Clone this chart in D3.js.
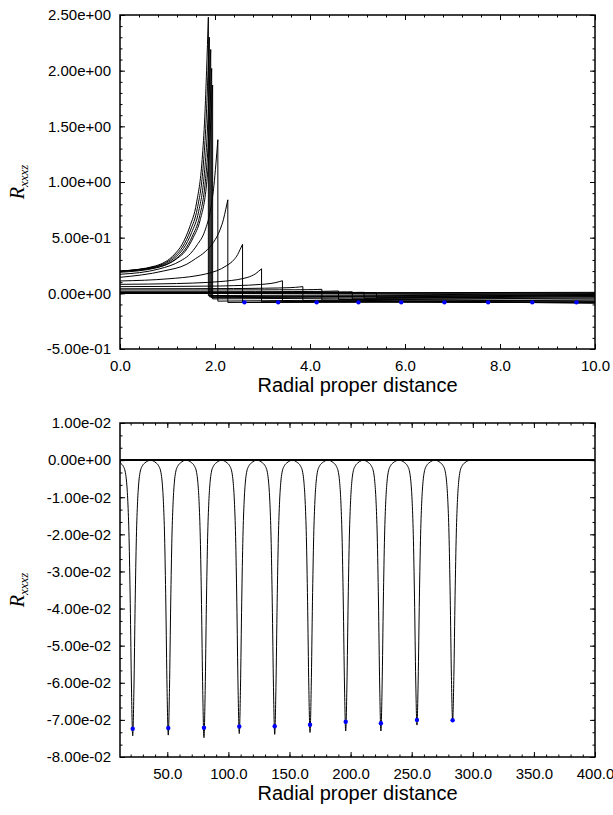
<!DOCTYPE html>
<html>
<head>
<meta charset="utf-8">
<script src="https://cdn.jsdelivr.net/npm/d3@7"></script>
<style>
  html, body { margin: 0; padding: 0; background: #fff; }
  svg { display: block; }
  .tick text { font-family: "Liberation Sans", Arial, Helvetica, sans-serif; font-size: 15px; fill: #000; }
  .tick line { stroke: #000; stroke-width: 1; }
</style>
</head>
<body>
<svg id="chart" width="613" height="815"></svg>
<script>
// ---------------- DATA ----------------
// Top panel: x tick labels / y tick labels
const topXTicks = [0, 2, 4, 6, 8, 10];
const topYTicks = [-0.5, 0, 0.5, 1.0, 1.5, 2.0, 2.5];
// Bottom panel ticks
const botXTicks = [50, 100, 150, 200, 250, 300, 350, 400];
const botYTicks = [0.01, 0, -0.01, -0.02, -0.03, -0.04, -0.05, -0.06, -0.07, -0.08];

// Top panel: each curve rises from x=0 to its peak, then drops and runs to x=10.
// Rise is sampled at x = u * peakX for these u.
const riseU = [0, 0.4, 0.62, 0.7, 0.79, 0.866, 0.93, 0.96, 0.98, 1];
const peakX = [1.86, 1.88, 1.91, 1.93, 1.95, 2.06, 2.27, 2.58, 2.98, 3.42, 3.85, 4.25, 4.60, 4.89, 5.14, 5.40];
const riseValues = [
  [0.200, 0.246, 0.353, 0.435, 0.599, 0.811, 1.203, 1.591, 2.001, 2.48],
  [0.200, 0.242, 0.341, 0.416, 0.568, 0.763, 1.124, 1.481, 1.859, 2.30],
  [0.198, 0.238, 0.331, 0.403, 0.547, 0.732, 1.074, 1.413, 1.772, 2.19],
  [0.196, 0.232, 0.318, 0.384, 0.515, 0.685, 0.999, 1.309, 1.637, 2.02],
  [0.189, 0.231, 0.315, 0.374, 0.500, 0.660, 0.945, 1.231, 1.534, 1.87],
  [0.171, 0.219, 0.292, 0.340, 0.437, 0.558, 0.776, 0.969, 1.162, 1.38],
  [0.144, 0.200, 0.262, 0.311, 0.374, 0.457, 0.576, 0.666, 0.750, 0.84],
  [0.111, 0.131, 0.157, 0.174, 0.203, 0.246, 0.302, 0.348, 0.394, 0.44],
  [0.081, 0.088, 0.098, 0.105, 0.116, 0.132, 0.157, 0.178, 0.199, 0.22],
  [0.060, 0.063, 0.066, 0.069, 0.073, 0.080, 0.089, 0.097, 0.105, 0.113],
  [0.041, 0.042, 0.043, 0.044, 0.046, 0.048, 0.051, 0.054, 0.057, 0.060],
  [0.030, 0.030, 0.031, 0.031, 0.032, 0.032, 0.033, 0.034, 0.035, 0.036],
  [0.014, 0.014, 0.015, 0.015, 0.016, 0.017, 0.018, 0.019, 0.020, 0.021],
  [0.010, 0.010, 0.010, 0.011, 0.011, 0.012, 0.012, 0.013, 0.013, 0.014],
  [0.007, 0.007, 0.007, 0.007, 0.008, 0.008, 0.008, 0.008, 0.009, 0.009],
  [0.004, 0.004, 0.004, 0.004, 0.004, 0.004, 0.005, 0.005, 0.005, 0.005]
];
const dropValues = [-0.020, -0.030, -0.035, -0.040, -0.050, -0.070, -0.082, -0.082, -0.075, -0.072, -0.065, -0.060, -0.055, -0.050, -0.045, -0.040];
const tailValues = [-0.005, -0.010, -0.015, -0.020, -0.030, -0.040, -0.060, -0.075, -0.080, -0.085, -0.088, -0.085, -0.070, -0.050, -0.030, -0.020];
// Later curves that stay flat near zero over the whole range
const flatStart = [0.002, 0.001, 0.000];
const flatEnd   = [0.009, 0.004, 0.001];
// Blue markers, top panel
const topDotX = [2.62, 3.33, 4.14, 5.02, 5.92, 6.83, 7.75, 8.68, 9.61];
const topDotY = [-0.081, -0.081, -0.081, -0.081, -0.081, -0.081, -0.081, -0.081, -0.081];

// Bottom panel: ten narrow dips
const dipCenter = [21.7, 50.8, 80.0, 108.9, 137.9, 166.8, 196.0, 224.8, 254.3, 283.5];
const dipTip    = [-0.0743, -0.0741, -0.0748, -0.0737, -0.0739, -0.0734, -0.0730, -0.0730, -0.0714, -0.0703];
const dipDot    = [-0.0724, -0.0722, -0.0721, -0.0718, -0.0717, -0.0713, -0.0705, -0.0709, -0.0700, -0.0701];
// dip profile: offset from centre and fraction of depth
const dipOffset = [-15, -10, -8, -6, -5, -4, -3, -2, -1, 0, 1, 2, 3, 4, 5, 6, 8, 10, 15];
const dipFrac   = [0, 0.01, 0.02, 0.045, 0.08, 0.15, 0.28, 0.52, 0.83, 1, 0.83, 0.52, 0.28, 0.15, 0.08, 0.045, 0.02, 0.01, 0];
const botXDomain = [11.3, 400];

// ---------------- LAYOUT ----------------
const svg = d3.select("#chart");
const topBox = {left: 120, right: 595, top: 15, bottom: 349};
const botBox = {left: 120, right: 595, top: 423, bottom: 757};
const FONT = '"Liberation Sans", Arial, Helvetica, sans-serif';

function fmtE(v) {
  if (Math.abs(v) < 1e-12) return "0.00e+00";
  return v.toExponential(2).replace(/e([+-])(\d)$/, "e$10$2");
}

function drawAxes(g, x, y, box, xMajor, xMinor, yMajor, yMinor, xFmt) {
  const M = 5, m = 2.5;
  const add = (axis, tx, ty) => {
    const a = g.append("g").attr("transform", `translate(${tx},${ty})`).call(axis);
    a.select(".domain").remove();
    return a;
  };
  add(d3.axisBottom(x).tickValues(xMajor).tickSize(-M).tickPadding(11).tickFormat(xFmt), 0, box.bottom);
  add(d3.axisBottom(x).tickValues(xMinor).tickSize(-m).tickFormat(""), 0, box.bottom);
  add(d3.axisTop(x).tickValues(xMajor).tickSize(-M).tickFormat(""), 0, box.top);
  add(d3.axisTop(x).tickValues(xMinor).tickSize(-m).tickFormat(""), 0, box.top);
  add(d3.axisLeft(y).tickValues(yMajor).tickSize(-M).tickPadding(9).tickFormat(fmtE), box.left, 0);
  add(d3.axisLeft(y).tickValues(yMinor).tickSize(-m).tickFormat(""), box.left, 0);
  add(d3.axisRight(y).tickValues(yMajor).tickSize(-M).tickFormat(""), box.right, 0);
  add(d3.axisRight(y).tickValues(yMinor).tickSize(-m).tickFormat(""), box.right, 0);
  g.append("rect")
    .attr("x", box.left).attr("y", box.top)
    .attr("width", box.right - box.left).attr("height", box.bottom - box.top)
    .attr("fill", "none").attr("stroke", "#000").attr("stroke-width", 1.5);
}

function labels(box, xlabelY) {
  svg.append("text")
    .attr("x", (box.left + box.right) / 2).attr("y", xlabelY)
    .attr("text-anchor", "middle")
    .style("font-family", FONT).style("font-size", "20px")
    .text("Radial proper distance");
  const cy = (box.top + box.bottom) / 2;
  const t = svg.append("text")
    .attr("transform", `translate(24,${cy}) rotate(-90)`)
    .attr("text-anchor", "middle")
    .style("font-family", '"Liberation Serif", "Times New Roman", serif')
    .style("font-style", "italic");
  t.append("tspan").style("font-size", "20px").text("R");
  t.append("tspan").style("font-size", "13px").attr("dy", 4).text("xxxz");
}

// ---------------- TOP PANEL ----------------
{
  const x = d3.scaleLinear().domain([0, 10]).range([topBox.left, topBox.right]);
  const y = d3.scaleLinear().domain([-0.5, 2.5]).range([topBox.bottom, topBox.top]);
  svg.append("clipPath").attr("id", "clipTop").append("rect")
    .attr("x", topBox.left).attr("y", topBox.top)
    .attr("width", topBox.right - topBox.left).attr("height", topBox.bottom - topBox.top);
  const g = svg.append("g").attr("clip-path", "url(#clipTop)");
  const smooth = d3.line().x(d => x(d[0])).y(d => y(d[1])).curve(d3.curveMonotoneX);
  const straight = d3.line().x(d => x(d[0])).y(d => y(d[1]));

  flatStart.forEach((v, i) => {
    g.append("path").attr("d", straight([[0, v], [10, flatEnd[i]]]))
      .attr("fill", "none").attr("stroke", "#000").attr("stroke-width", 1);
  });
  peakX.forEach((p, i) => {
    const rise = riseU.map((u, j) => [u * p, riseValues[i][j]]);
    g.append("path").attr("d", smooth(rise))
      .attr("fill", "none").attr("stroke", "#000").attr("stroke-width", 1);
    const fall = [[p, riseValues[i][riseU.length - 1]], [p, dropValues[i]], [10, tailValues[i]]];
    g.append("path").attr("d", straight(fall))
      .attr("fill", "none").attr("stroke", "#000").attr("stroke-width", 1);
  });
  g.selectAll("circle.dot").data(topDotX).join("circle")
    .attr("class", "dot")
    .attr("cx", d => x(d)).attr("cy", (d, i) => y(topDotY[i]))
    .attr("r", 2.2).attr("fill", "#0000ff");

  const ax = svg.append("g");
  drawAxes(ax, x, y, topBox, topXTicks, d3.range(0, 10.0001, 0.4),
           topYTicks, d3.range(-0.5, 2.50001, 0.1), d3.format(".1f"));
  labels(topBox, 392);
}

// ---------------- BOTTOM PANEL ----------------
{
  const x = d3.scaleLinear().domain(botXDomain).range([botBox.left, botBox.right]);
  const y = d3.scaleLinear().domain([-0.08, 0.01]).range([botBox.bottom, botBox.top]);
  svg.append("clipPath").attr("id", "clipBot").append("rect")
    .attr("x", botBox.left).attr("y", botBox.top)
    .attr("width", botBox.right - botBox.left).attr("height", botBox.bottom - botBox.top);
  const g = svg.append("g").attr("clip-path", "url(#clipBot)");
  const line = d3.line().x(d => x(d[0])).y(d => y(d[1])).curve(d3.curveMonotoneX);

  dipCenter.forEach((c, i) => {
    const pts = [[botXDomain[0], 0]];
    dipOffset.forEach((o, j) => {
      const xv = c + o;
      if (xv > botXDomain[0]) pts.push([xv, dipTip[i] * dipFrac[j]]);
    });
    pts.push([botXDomain[1], 0]);
    g.append("path").attr("d", line(pts))
      .attr("fill", "none").attr("stroke", "#000").attr("stroke-width", 1);
  });
  g.selectAll("circle.dot").data(dipCenter).join("circle")
    .attr("class", "dot")
    .attr("cx", d => x(d)).attr("cy", (d, i) => y(dipDot[i]))
    .attr("r", 2.2).attr("fill", "#0000ff");

  const ax = svg.append("g");
  drawAxes(ax, x, y, botBox, botXTicks, d3.range(20, 400.0001, 10),
           botYTicks, d3.range(-0.08, 0.0100001, 0.01 / 3), d3.format(".1f"));
  labels(botBox, 800);
}
</script>
</body>
</html>
